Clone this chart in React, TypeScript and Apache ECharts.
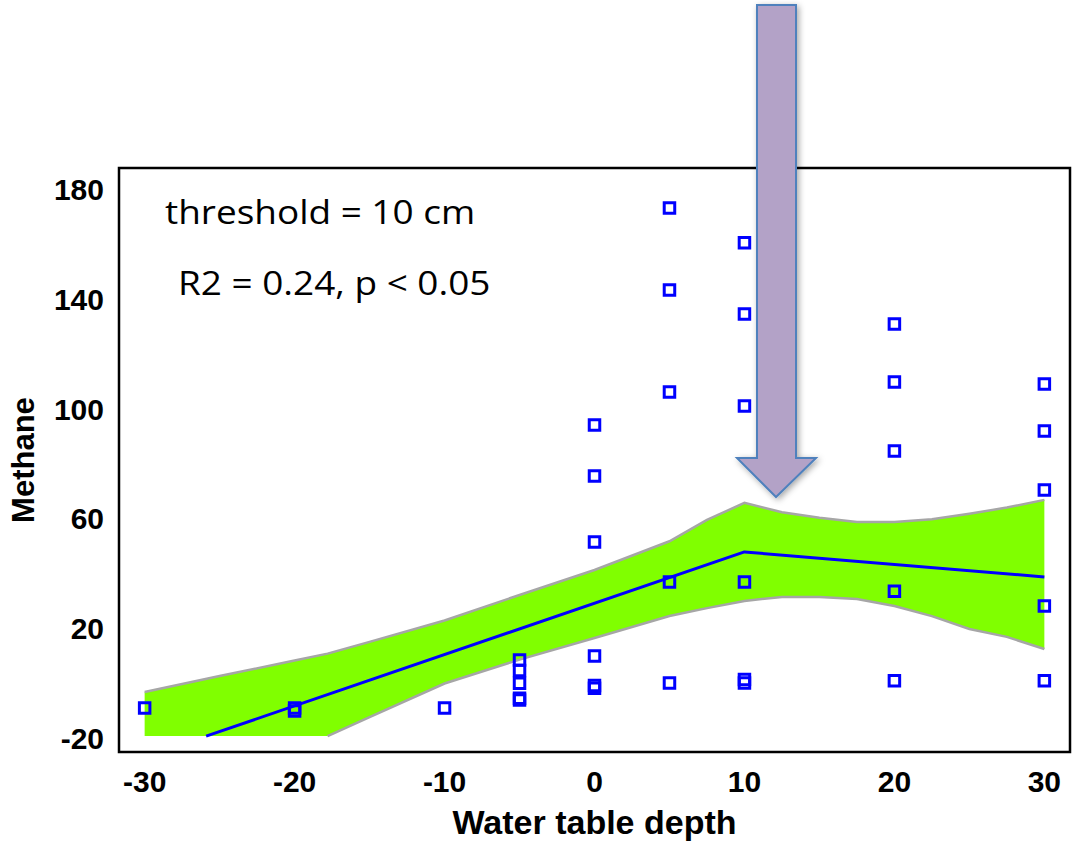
import React, { useEffect, useRef } from "react";
import * as echarts from "echarts";

// Observed points: water table depth (cm) vs methane
const obsX = [
  -30, -20, -20, -10,
  -5, -5, -5, -5, -5,
  0, 0, 0, 0, 0, 0,
  5, 5, 5, 5, 5,
  10, 10, 10, 10, 10, 10,
  20, 20, 20, 20, 20,
  30, 30, 30, 30, 30,
];
const obsY = [
  -9.0, -9.0, -10.1, -9.0,
  8.5, 4.6, 0.0, -5.5, -6.1,
  94.2, 75.6, 51.5, 9.9, -0.8, -1.8,
  173.4, 143.5, 106.3, 36.9, 0.1,
  160.7, 134.7, 101.2, 36.9, 1.4, 0.1,
  131.1, 109.9, 84.7, 33.6, 0.9,
  109.2, 92.0, 70.5, 28.2, 0.9,
];

// Segmented regression fit (breakpoint at 10 cm)
const fitX = [-25.9, 10, 30];
const fitY = [-19.3, 47.9, 38.8];

// Confidence band
const bandX = [-30, -25, -20, -17.8, -15, -10, -5, 0, 5, 7.5, 10, 12.5, 15, 17.5, 20, 22.5, 25, 27.5, 30];
const bandLower = [-19.3, -19.3, -19.3, -19.3, -12.4, -0.1, 8.6, 16.5, 24.5, 27.4, 30.0, 31.5, 31.5, 30.7, 28.2, 24.5, 19.8, 16.9, 12.5];
const bandUpper = [-3.2, 2.6, 8.3, 10.8, 15.1, 22.9, 32.2, 41.3, 51.8, 59.6, 65.8, 62.4, 60.4, 58.8, 58.8, 59.8, 61.8, 64.1, 66.9];

const xTicks = [-30, -20, -10, 0, 10, 20, 30];
const yTicks = [-20, 20, 60, 100, 140, 180];

const annotation1 = "threshold = 10 cm";
const annotation2 = "R2 = 0.24, p < 0.05";

export default function App() {
  const ref = useRef<HTMLDivElement>(null);

  useEffect(() => {
    if (!ref.current) return;
    const chart = echarts.init(ref.current, undefined, { renderer: "svg" });

    const bandData = bandX.map((x, i) => [x, bandLower[i], bandUpper[i]]);
    const fitData = fitX.map((x, i) => [x, fitY[i]]);
    const obsData = obsX.map((x, i) => [x, obsY[i]]);

    const labelFont = {
      fontFamily: "'Liberation Sans', Arial, sans-serif",
      fontWeight: "bold" as const,
      color: "#000",
    };

    const renderBand = (params: any, api: any) => {
      if (params.dataIndex !== 0) return null;
      const upper = bandData.map((d) => api.coord([d[0], d[2]]));
      const lower = bandData.map((d) => api.coord([d[0], d[1]]));
      const lowerEdge = bandData
        .filter((d) => d[0] >= -17.8)
        .map((d) => api.coord([d[0], d[1]]));
      const poly = upper.concat(lower.slice().reverse());
      return {
        type: "group",
        children: [
          {
            type: "polygon",
            shape: { points: poly },
            style: { fill: "#80ff00", stroke: "none" },
          },
          {
            type: "polyline",
            shape: { points: upper },
            style: { stroke: "#a6a6a6", lineWidth: 2.5, fill: "none" },
          },
          {
            type: "polyline",
            shape: { points: lowerEdge },
            style: { stroke: "#a6a6a6", lineWidth: 2.5, fill: "none" },
          },
        ],
      };
    };

    chart.setOption({
      animation: false,
      backgroundColor: "#fff",
      grid: {
        left: 118,
        right: 6,
        top: 168,
        bottom: 98,
        show: true,
        borderColor: "#000",
        borderWidth: 2.5,
        backgroundColor: "transparent",
      },
      xAxis: {
        type: "value",
        min: -31.71,
        max: 31.71,
        axisLine: { show: false },
        axisTick: { show: false },
        splitLine: { show: false },
        axisLabel: {
          customValues: xTicks,
          fontSize: 30,
          margin: 14,
          ...labelFont,
        },
        name: "Water table depth",
        nameLocation: "middle",
        nameGap: 53,
        nameTextStyle: { fontSize: 34, ...labelFont },
      },
      yAxis: {
        type: "value",
        min: -25.1,
        max: 188,
        axisLine: { show: false },
        axisTick: { show: false },
        splitLine: { show: false },
        axisLabel: {
          customValues: yTicks,
          fontSize: 30,
          margin: 15,
          ...labelFont,
        },
        name: "Methane",
        nameLocation: "middle",
        nameRotate: 90,
        nameGap: 80,
        nameTextStyle: { fontSize: 31, ...labelFont },
      },
      series: [
        {
          type: "custom",
          data: bandData,
          renderItem: renderBand,
          clip: true,
          silent: true,
          z: 1,
        },
        {
          type: "line",
          data: fitData,
          symbol: "none",
          lineStyle: { color: "#0000ff", width: 3 },
          silent: true,
          z: 3,
        },
        {
          type: "scatter",
          data: obsData,
          symbol: "rect",
          symbolSize: 10.5,
          itemStyle: {
            color: "rgba(255,255,255,0)",
            borderColor: "#0000ff",
            borderWidth: 3,
            opacity: 1,
          },
          z: 4,
        },
      ],
      graphic: [
        {
          type: "text",
          x: 165,
          y: 195,
          scaleX: 1.12,
          style: {
            text: annotation1,
            font: "33px 'Open Sans', sans-serif",
            fill: "#000",
            verticalAlign: "top",
          },
          z: 10,
        },
        {
          type: "text",
          x: 178,
          y: 266,
          scaleX: 1.12,
          style: {
            text: annotation2,
            font: "33px 'Open Sans', sans-serif",
            fill: "#000",
            verticalAlign: "top",
          },
          z: 10,
        },
        {
          type: "polygon",
          shape: {
            points: [
              [757, 5],
              [796, 5],
              [796, 458],
              [816, 458],
              [776, 497],
              [737, 458],
              [757, 458],
            ],
          },
          style: {
            fill: "#b3a2c7",
            stroke: "#4f81bd",
            lineWidth: 2,
            shadowBlur: 6,
            shadowColor: "rgba(0,0,0,0.35)",
            shadowOffsetX: 2,
            shadowOffsetY: 2,
          },
          z: 20,
        },
      ],
    });

    return () => chart.dispose();
  }, []);

  return (
    <div
      ref={ref}
      style={{ position: "absolute", left: 0, top: 0, width: 1076, height: 850 }}
    />
  );
}
